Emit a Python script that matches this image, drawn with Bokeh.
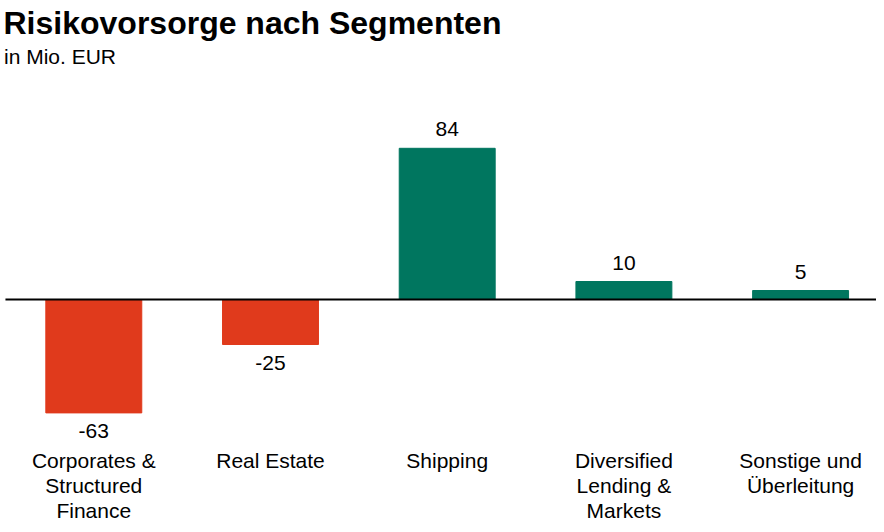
from bokeh.plotting import figure
from bokeh.models import ColumnDataSource, Range1d, Label
from bokeh.embed import file_html
from bokeh.resources import INLINE
from bokeh.core.properties import value

# ---- data ----
categories = ["Corporates &\nStructured\nFinance", "Real Estate", "Shipping",
              "Diversified\nLending &\nMarkets", "Sonstige und\nÜberleitung"]
values = [-63, -25, 84, 10, 5]
value_labels = ["-63", "-25", "84", "10", "5"]

RED = "#E03A1C"
GREEN = "#00765F"
FONT = "Liberation Sans"

W, H = 876, 524
PX_PER_CAT = 176.7
FIRST_CENTER = 93.3      # px from canvas left
ZERO_PX = 299.0          # px from canvas top
PX_PER_UNIT = 1.8

x_start = -FIRST_CENTER / PX_PER_CAT
x_end = (W - FIRST_CENTER) / PX_PER_CAT
y_end = ZERO_PX / PX_PER_UNIT
y_start = -(H - ZERO_PX) / PX_PER_UNIT

p = figure(width=W, height=H, output_backend="svg", toolbar_location=None,
           x_range=Range1d(x_start, x_end), y_range=Range1d(y_start, y_end),
           x_axis_location=None, y_axis_location=None, min_border=0,
           styles={"margin-bottom": "-8px"})
p.grid.visible = False
p.outline_line_color = None
p.background_fill_color = "white"
p.border_fill_color = "white"

xs = list(range(len(categories)))
src = ColumnDataSource(dict(
    x=xs, top=values,
    color=[RED if v < 0 else GREEN for v in values],
    lab=value_labels,
    yoff=[18 if v < 0 else -19 for v in values],
    cat=categories,
))

p.vbar(x="x", top="top", bottom=0, width=0.543, color="color", source=src)
p.segment(x0=-0.5, y0=0, x1=x_end + 1, y1=0, line_color="black", line_width=2)

p.text(x="x", y="top", text="lab", y_offset="yoff", source=src,
       text_align="center", text_baseline="alphabetic",
       text_font=value(FONT), text_font_size="21px", text_color="#000000")

label_y = -(456 - 8 - ZERO_PX) / PX_PER_UNIT
p.text(x="x", y=label_y, text="cat", source=src,
       text_align="center", text_baseline="top", text_line_height=1.1,
       text_font=value(FONT), text_font_size="21px", text_color="#000000")

p.add_layout(Label(x=3, y=H - 22.5, x_units="screen", y_units="screen",
                   text="Risikovorsorge nach Segmenten", text_font=FONT,
                   text_font_size="32px", text_font_style="bold",
                   text_color="#000000", text_baseline="alphabetic"))
p.add_layout(Label(x=3.5, y=H - 55.7, x_units="screen", y_units="screen",
                   text="in Mio. EUR", text_font=FONT,
                   text_font_size="21px", text_color="#000000",
                   text_baseline="alphabetic"))

open("out.html", "w").write(file_html(p, INLINE))
